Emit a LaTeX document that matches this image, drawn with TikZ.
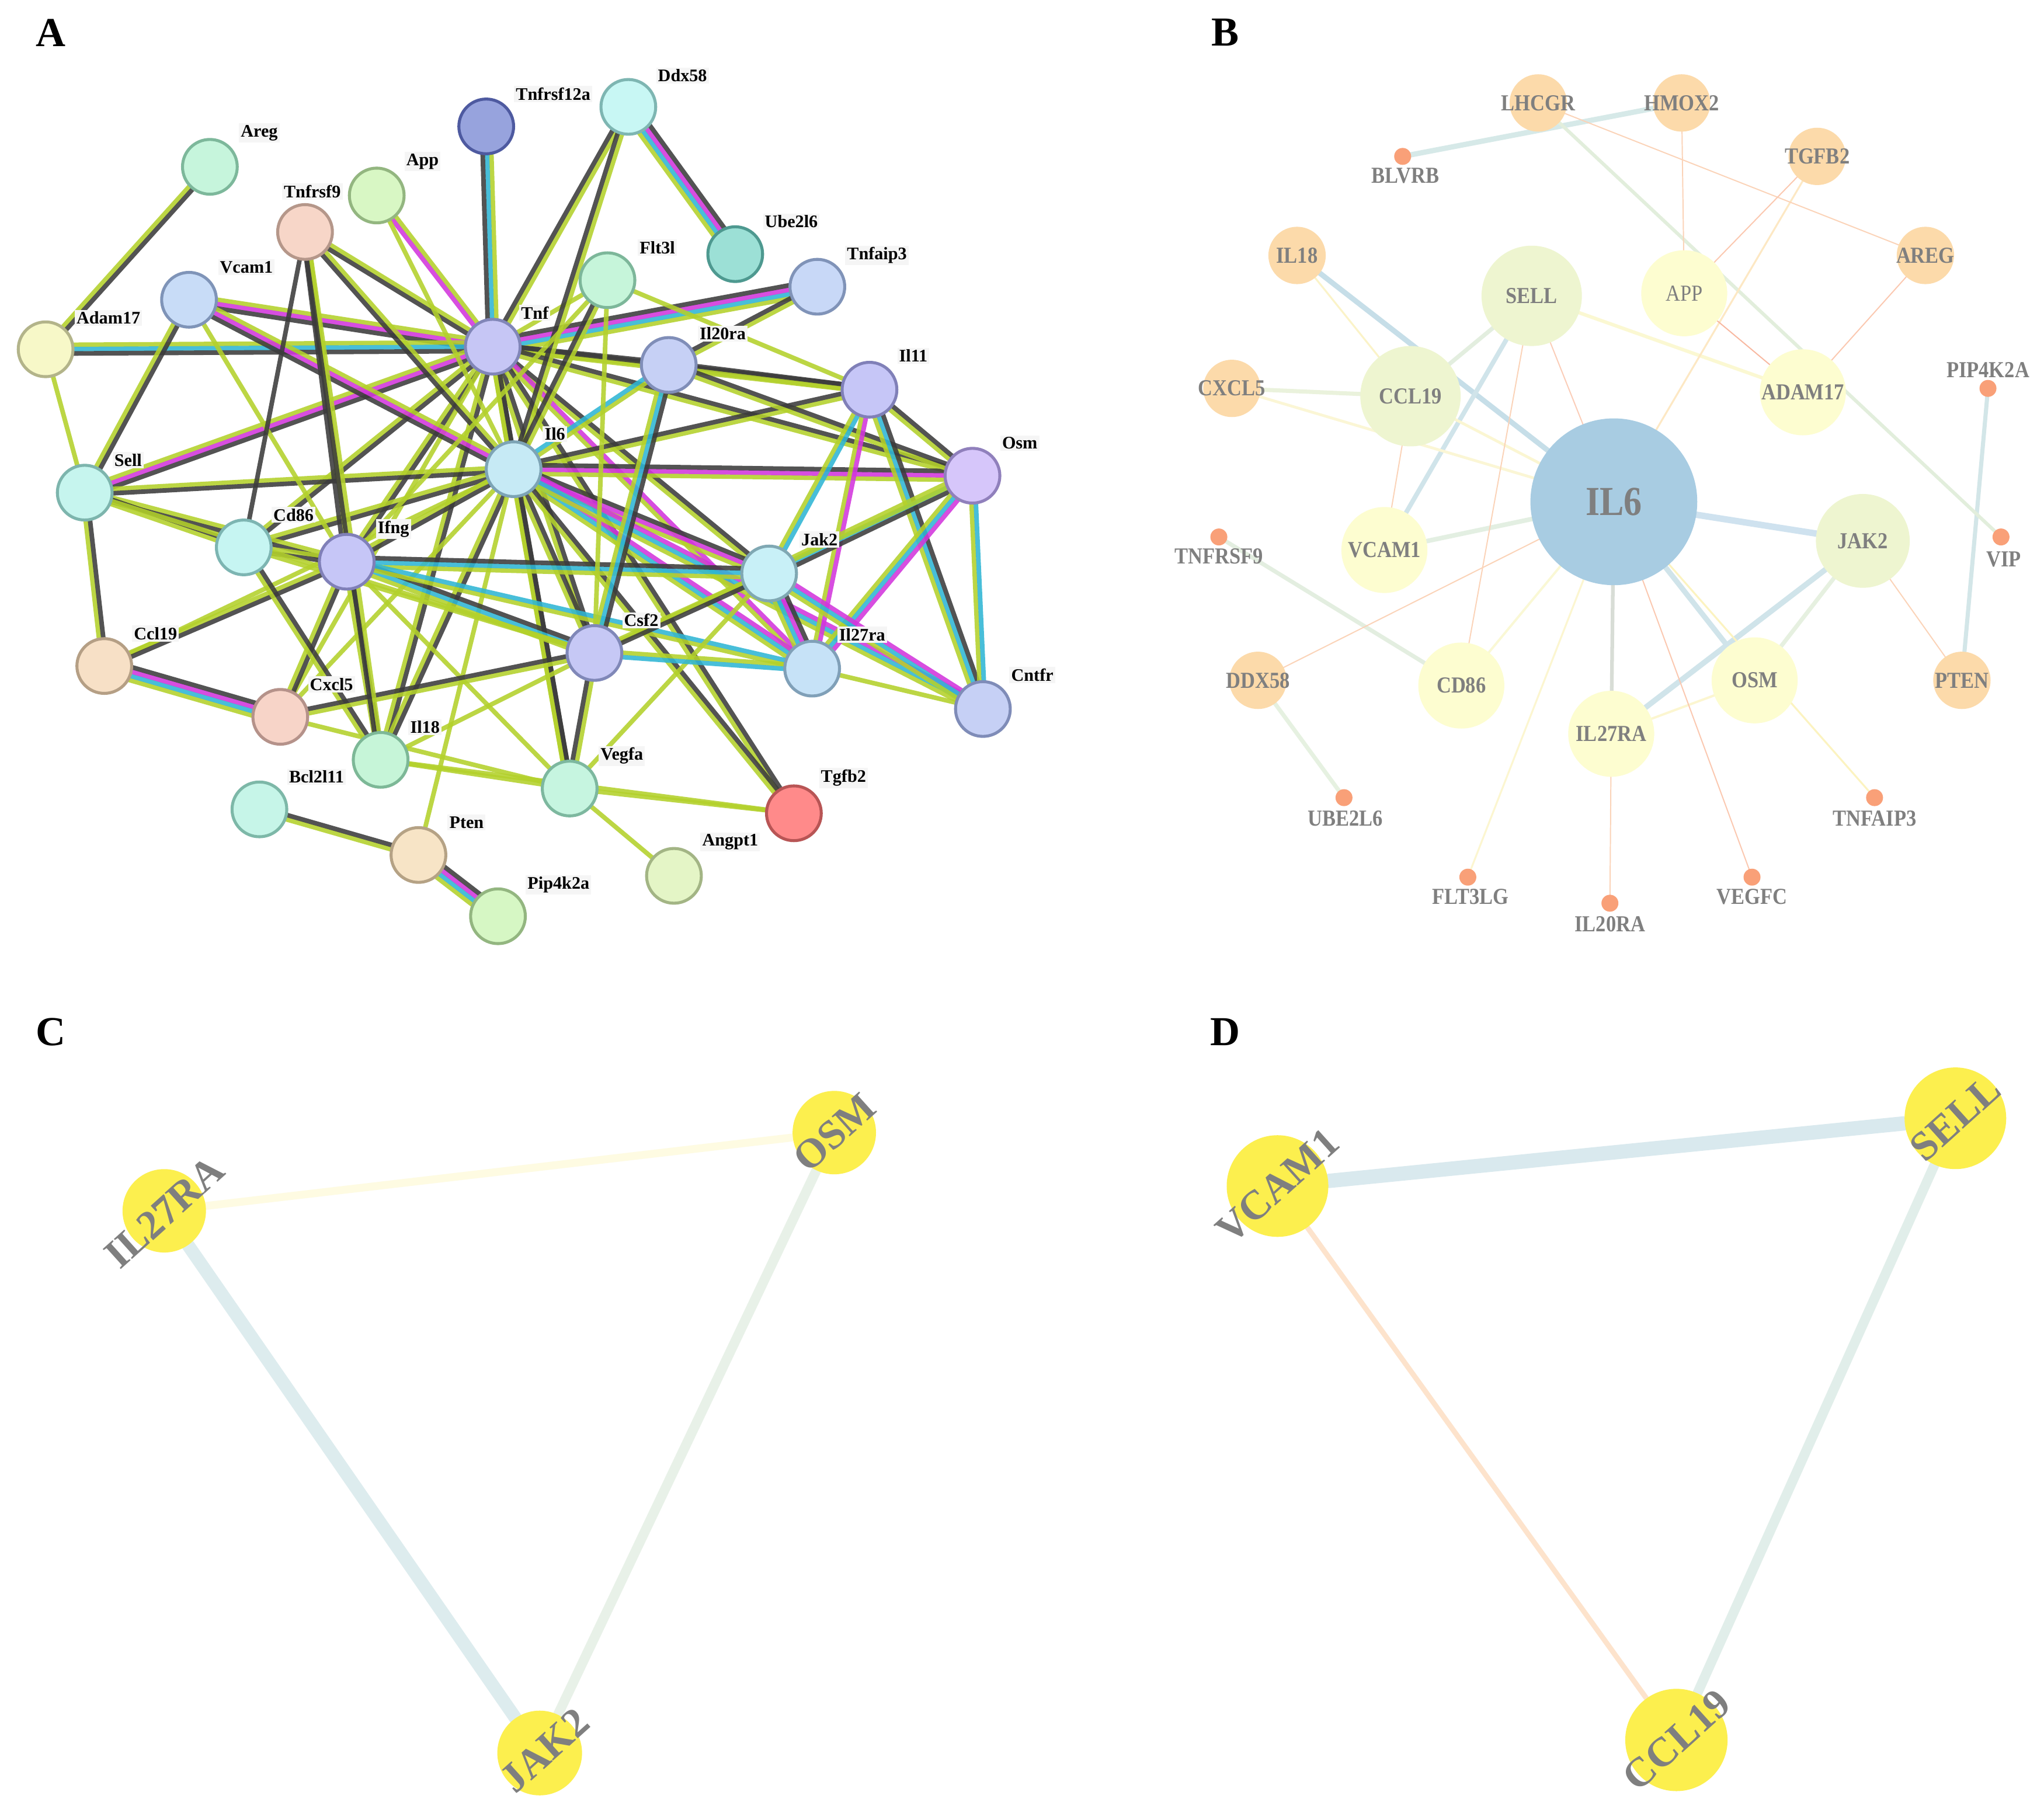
\documentclass[tikz,border=0pt]{standalone}
\usepackage{fontspec}
\usepackage{graphicx}
\setmainfont{Liberation Serif}
\usetikzlibrary{calc}
\pgfdeclarelayer{bgfill}
\pgfdeclarelayer{edges}
\pgfsetlayers{bgfill,edges,main}

\definecolor{sg}{HTML}{B3D12B}
\definecolor{sk}{HTML}{3C3C3C}
\definecolor{sc}{HTML}{2FB6D4}
\definecolor{sm}{HTML}{D236DC}
\definecolor{bgray}{HTML}{7F7F7F}
\definecolor{borange}{HTML}{FCDAAA}
\definecolor{bgreen}{HTML}{EEF5D0}
\definecolor{byellow}{HTML}{FDFDD0}
\definecolor{bblue}{HTML}{A8CCE2}
\definecolor{bdot}{HTML}{F9A078}
\definecolor{cyel}{RGB}{252,239,78}

\tikzset{
  sline/.style={line width=2pt, draw opacity=0.88},
  anode/.style={circle, line width=1.3pt, minimum size=0.84cm, inner sep=0pt},
  alabel/.style={anchor=west, font=\bfseries\fontsize{7.7}{9}\selectfont, fill=black!4, inner sep=0.8pt, text=black},
  bnode/.style={circle, inner sep=0pt, minimum size=#1},
  blab/.style={text=bgray, font=\bfseries\fontsize{10}{12}\selectfont, inner sep=0pt},
  blabr/.style={text=bgray, font=\fontsize{10}{12}\selectfont, inner sep=0pt},
  bedge/.style 2 args={/utils/exec={\definecolor{tmpc}{HTML}{#1}}, draw=tmpc, line width=#2, line cap=round},
  cnode/.style={circle, fill=cyel, inner sep=0pt, minimum size=#1},
  ctext/.style={text=bgray, font=\bfseries\fontsize{18}{20}\selectfont, inner sep=0pt, rotate=42},
  panel/.style={font=\bfseries\fontsize{18}{20}\selectfont, inner sep=0pt}
}

\newcommand{\cz}[1]{\scalebox{0.88}[1]{#1}}

\newcommand{\stredge}[4]{%
  \foreach \cc [count=\ii] in {#4} {%
    \pgfmathsetmacro{\off}{(\ii-(#3+1)/2)*1.9}%
    \draw[sline, draw=\cc] ($(#1.center)!\off pt!90:(#2.center)$) -- ($(#2.center)!\off pt!-90:(#1.center)$);
  }}

\newcommand{\gn}[8]{%
  \definecolor{f#1}{HTML}{#4}\definecolor{b#1}{HTML}{#5}%
  \node[anode, fill=f#1, draw=b#1] (#1) at (#2,#3) {};
  \node[alabel] (#1-l) at (#7,#8) {#6};
}

\begin{document}
\begin{tikzpicture}[x=0.02cm, y=-0.02cm]
\begin{pgfonlayer}{bgfill}
\fill[white] (0,0) rectangle (1568,1391);
\end{pgfonlayer}
\useasboundingbox (0,0) rectangle (1568,1391);

% ---------------- panel letters
\node[panel] (pA) at (39,25) {A};
\node[panel] (pB) at (940,25) {B};
\node[panel] (pC) at (39,792) {C};
\node[panel] (pD) at (940,792) {D};

% ---------------- Panel A nodes
\gn{aAreg}{161}{128}{C6F5DC}{7DB89B}{Areg}{183}{102}
\gn{aTnfrsf12a}{373}{97}{97A3DD}{4E5AA0}{Tnfrsf12a}{394}{72}
\gn{aDdx58}{482}{82}{C8F7F4}{7EB6B2}{Ddx58}{503}{58}
\gn{aApp}{289}{150}{D8F7C4}{93B680}{App}{310}{124}
\gn{aTnfrsf9}{234}{178}{F7D6C8}{B5978A}{Tnfrsf9}{216}{147}
\gn{aVcam1}{145}{230}{C8DCF7}{7F94B8}{Vcam1}{167}{205}
\gn{aFlt3l}{466}{215}{C6F5DA}{7DB79A}{Flt3l}{489}{190}
\gn{aUbe}{564}{195}{9CE0D6}{4E9990}{Ube2l6}{585}{170}
\gn{aTnfaip3}{627}{220}{C8D8F7}{8093B8}{Tnfaip3}{648}{196}
\gn{aAdam17}{35}{268}{F7F8C8}{B3B48A}{Adam17}{57}{244}
\gn{aTnf}{378}{266}{C6C6F5}{8186B8}{Tnf}{398}{240}
\gn{aIl20ra}{513}{280}{C6D0F5}{808EB8}{Il20ra}{535}{256}
\gn{aIl11}{667}{299}{C6C6F7}{8080B8}{Il11}{688}{273}
\gn{aIl6}{394}{360}{C6EAF5}{7DA4B5}{Il6}{416}{333}
\gn{aOsm}{746}{365}{D6C6FA}{9080BC}{Osm}{767}{340}
\gn{aSell}{65}{378}{C6F5EE}{7DB5AD}{Sell}{86}{353}
\gn{aCd86}{187}{420}{C6F5F2}{7DB5B2}{Cd86}{208}{395}
\gn{aIfng}{266}{431}{C6C6F7}{8080B8}{Ifng}{288}{406}
\gn{aJak2}{590}{440}{C8F0F7}{80A8B3}{Jak2}{613}{414}
\gn{aCsf2}{456}{501}{C6C8F5}{8088B8}{Csf2}{477}{476}
\gn{aIl27ra}{623}{513}{C6E2F7}{80A0B8}{Il27ra}{642}{487}
\gn{aCntfr}{754}{544}{C6D0F5}{7F8CB8}{Cntfr}{774}{518}
\gn{aCcl19}{80}{511}{F7E0C6}{B59F85}{Ccl19}{101}{486}
\gn{aCxcl5}{215}{550}{F7D4C8}{B5928A}{Cxcl5}{236}{525}
\gn{aIl18}{292}{583}{C6F5D8}{7DB897}{Il18}{313}{558}
\gn{aVegfa}{437}{605}{C6F5E0}{7DB89F}{Vegfa}{459}{580}
\gn{aTgfb2}{609}{624}{FF8A8A}{B85555}{Tgfb2}{628}{597}
\gn{aBcl}{199}{621}{C6F5E8}{7DB8A8}{Bcl2l11}{220}{596}
\gn{aPten}{321}{656}{F7E4C6}{B5A285}{Pten}{343}{631}
\gn{aAngpt1}{517}{672}{E4F5C6}{A3B585}{Angpt1}{537}{646}
\gn{aPip}{382}{703}{D6F7C4}{93B680}{Pip4k2a}{403}{679}

% ---------------- Panel A edges
\begin{pgfonlayer}{edges}
\stredge{aTnf}{aTnfrsf12a}{3}{sg,sc,sk}
\stredge{aTnf}{aDdx58}{2}{sg,sk}
\stredge{aTnf}{aApp}{2}{sg,sm}
\stredge{aTnf}{aTnfrsf9}{2}{sg,sk}
\stredge{aTnf}{aVcam1}{3}{sg,sm,sk}
\stredge{aTnf}{aAdam17}{3}{sg,sc,sk}
\stredge{aTnf}{aSell}{3}{sg,sm,sk}
\stredge{aTnf}{aTnfaip3}{4}{sg,sc,sm,sk}
\stredge{aTnf}{aIl20ra}{2}{sg,sk}
\stredge{aTnf}{aIl11}{2}{sg,sk}
\stredge{aTnf}{aOsm}{2}{sg,sk}
\stredge{aTnf}{aIl6}{2}{sg,sk}
\stredge{aTnf}{aIfng}{2}{sg,sk}
\stredge{aTnf}{aCd86}{2}{sg,sk}
\stredge{aTnf}{aJak2}{2}{sg,sk}
\stredge{aTnf}{aCsf2}{2}{sg,sk}
\stredge{aTnf}{aIl27ra}{2}{sg,sm}
\stredge{aTnf}{aCxcl5}{1}{sg}
\stredge{aTnf}{aIl18}{2}{sg,sk}
\stredge{aTnf}{aVegfa}{2}{sg,sk}
\stredge{aTnf}{aTgfb2}{2}{sg,sk}
\stredge{aTnf}{aFlt3l}{1}{sg}
\stredge{aIl6}{aDdx58}{2}{sg,sk}
\stredge{aIl6}{aApp}{1}{sg}
\stredge{aIl6}{aTnfrsf9}{2}{sg,sk}
\stredge{aIl6}{aVcam1}{3}{sg,sm,sk}
\stredge{aIl6}{aSell}{2}{sg,sk}
\stredge{aIl6}{aCd86}{2}{sg,sk}
\stredge{aIl6}{aIfng}{2}{sg,sk}
\stredge{aIl6}{aFlt3l}{2}{sg,sk}
\stredge{aIl6}{aIl20ra}{2}{sg,sc}
\stredge{aIl6}{aIl11}{2}{sg,sk}
\stredge{aIl6}{aOsm}{3}{sg,sm,sk}
\stredge{aIl6}{aJak2}{3}{sg,sm,sk}
\stredge{aIl6}{aIl27ra}{3}{sg,sc,sm}
\stredge{aIl6}{aCntfr}{3}{sg,sc,sm}
\stredge{aIl6}{aCsf2}{2}{sg,sk}
\stredge{aIl6}{aCxcl5}{1}{sg}
\stredge{aIl6}{aIl18}{2}{sg,sk}
\stredge{aIl6}{aVegfa}{2}{sg,sk}
\stredge{aIl6}{aTgfb2}{2}{sg,sk}
\stredge{aIl6}{aPten}{1}{sg}
\stredge{aIl6}{aCcl19}{1}{sg}
\stredge{aIfng}{aTnfrsf9}{2}{sg,sk}
\stredge{aIfng}{aSell}{2}{sg,sk}
\stredge{aIfng}{aCd86}{2}{sg,sk}
\stredge{aIfng}{aCcl19}{2}{sg,sk}
\stredge{aIfng}{aCxcl5}{2}{sg,sk}
\stredge{aIfng}{aIl18}{2}{sg,sk}
\stredge{aIfng}{aJak2}{3}{sg,sc,sk}
\stredge{aIfng}{aCsf2}{3}{sg,sc,sk}
\stredge{aIfng}{aVegfa}{1}{sg}
\stredge{aIfng}{aIl27ra}{2}{sg,sc}
\stredge{aIfng}{aVcam1}{1}{sg}
\stredge{aAreg}{aAdam17}{2}{sg,sk}
\stredge{aAdam17}{aSell}{1}{sg}
\stredge{aVcam1}{aSell}{2}{sg,sk}
\stredge{aSell}{aCd86}{2}{sg,sk}
\stredge{aSell}{aCcl19}{2}{sg,sk}
\stredge{aSell}{aCsf2}{1}{sg}
\stredge{aCd86}{aTnfrsf9}{1}{sk}
\stredge{aCd86}{aIl18}{2}{sg,sk}
\stredge{aCd86}{aCsf2}{1}{sg}
\stredge{aCcl19}{aCxcl5}{4}{sg,sc,sm,sk}
\stredge{aCxcl5}{aCsf2}{2}{sg,sk}
\stredge{aCxcl5}{aVegfa}{1}{sg}
\stredge{aIl18}{aVegfa}{1}{sg}
\stredge{aIl18}{aTgfb2}{1}{sg}
\stredge{aIl18}{aCsf2}{1}{sg}
\stredge{aIl18}{aTnfrsf9}{2}{sg,sk}
\stredge{aVegfa}{aCsf2}{2}{sg,sk}
\stredge{aVegfa}{aTgfb2}{1}{sg}
\stredge{aVegfa}{aAngpt1}{1}{sg}
\stredge{aVegfa}{aJak2}{1}{sg}
\stredge{aBcl}{aPten}{2}{sg,sk}
\stredge{aPten}{aPip}{4}{sg,sc,sm,sk}
\stredge{aDdx58}{aUbe}{4}{sg,sc,sm,sk}
\stredge{aFlt3l}{aCsf2}{1}{sg}
\stredge{aFlt3l}{aIl11}{1}{sg}
\stredge{aFlt3l}{aIfng}{1}{sg}
\stredge{aIl20ra}{aTnfaip3}{2}{sg,sk}
\stredge{aIl20ra}{aIl11}{2}{sg,sk}
\stredge{aIl20ra}{aOsm}{2}{sg,sk}
\stredge{aIl20ra}{aCsf2}{3}{sg,sc,sk}
\stredge{aIl11}{aOsm}{2}{sg,sk}
\stredge{aIl11}{aJak2}{2}{sg,sc}
\stredge{aIl11}{aIl27ra}{2}{sg,sm}
\stredge{aIl11}{aCntfr}{3}{sg,sc,sk}
\stredge{aOsm}{aJak2}{3}{sg,sc,sk}
\stredge{aOsm}{aIl27ra}{3}{sg,sc,sm}
\stredge{aOsm}{aCntfr}{2}{sg,sc}
\stredge{aOsm}{aCsf2}{1}{sg}
\stredge{aJak2}{aCsf2}{2}{sg,sk}
\stredge{aJak2}{aIl27ra}{4}{sg,sc,sm,sk}
\stredge{aJak2}{aCntfr}{3}{sg,sc,sm}
\stredge{aIl27ra}{aCsf2}{2}{sg,sc}
\stredge{aIl27ra}{aCntfr}{1}{sg}
\end{pgfonlayer}

% ---------------- Panel B nodes
\node[bnode=0.88cm, fill=borange, label={[blab]center:\cz{LHCGR}}] (bLHCGR) at (1180,79) {};
\node[bnode=0.88cm, fill=borange, label={[blab]center:\cz{HMOX2}}] (bHMOX2) at (1290,79) {};
\node[bnode=0.88cm, fill=borange, label={[blab]center:\cz{TGFB2}}] (bTGFB2) at (1394,120) {};
\node[bnode=0.88cm, fill=borange, label={[blab]center:\cz{IL18}}] (bIL18) at (995,196) {};
\node[bnode=0.88cm, fill=borange, label={[blab]center:\cz{AREG}}] (bAREG) at (1477,196) {};
\node[bnode=0.88cm, fill=borange, label={[blab]center:\cz{CXCL5}}] (bCXCL5) at (945,298) {};
\node[bnode=0.88cm, fill=borange, label={[blab]center:\cz{DDX58}}] (bDDX58) at (965,522) {};
\node[bnode=0.88cm, fill=borange, label={[blab]center:\cz{PTEN}}] (bPTEN) at (1505,522) {};
\node[bnode=1.54cm, fill=bgreen, label={[blab]center:\cz{SELL}}] (bSELL) at (1175,227) {};
\node[bnode=1.54cm, fill=bgreen, label={[blab]center:\cz{CCL19}}] (bCCL19) at (1082,304) {};
\node[bnode=1.44cm, fill=bgreen, label={[blab]center:\cz{JAK2}}] (bJAK2) at (1429,415) {};
\node[bnode=1.32cm, fill=byellow, label={[blabr]center:\cz{APP}}] (bAPP) at (1292,225) {};
\node[bnode=1.32cm, fill=byellow, label={[blab]center:\cz{ADAM17}}] (bADAM17) at (1383,301) {};
\node[bnode=1.32cm, fill=byellow, label={[blab]center:\cz{VCAM1}}] (bVCAM1) at (1062,422) {};
\node[bnode=1.32cm, fill=byellow, label={[blab]center:\cz{CD86}}] (bCD86) at (1121,526) {};
\node[bnode=1.32cm, fill=byellow, label={[blab]center:\cz{OSM}}] (bOSM) at (1346,522) {};
\node[bnode=1.32cm, fill=byellow, label={[blab]center:\cz{IL27RA}}] (bIL27RA) at (1236,563) {};
\node[bnode=2.56cm, fill=bblue, label={[text=bgray, font=\bfseries\fontsize{18}{20}\selectfont]center:\cz{IL6}}] (bIL6) at (1238,385) {};
% dots
\node[bnode=0.26cm, fill=bdot] (bBLVRB) at (1076,120) {};
\node[blab] (bBLVRB-t) at (1078,135) {\cz{BLVRB}};
\node[bnode=0.26cm, fill=bdot] (bPIP) at (1525,298) {};
\node[blab] (bPIP-t) at (1525,284) {\cz{PIP4K2A}};
\node[bnode=0.26cm, fill=bdot] (bTNFRSF9) at (935,412) {};
\node[blab] (bTNFRSF9-t) at (935,427) {\cz{TNFRSF9}};
\node[bnode=0.26cm, fill=bdot] (bVIP) at (1535,412) {};
\node[blab] (bVIP-t) at (1537,429) {\cz{VIP}};
\node[bnode=0.26cm, fill=bdot] (bUBE) at (1031,612) {};
\node[blab] (bUBE-t) at (1032,628) {\cz{UBE2L6}};
\node[bnode=0.26cm, fill=bdot] (bTNFAIP3) at (1438,612) {};
\node[blab] (bTNFAIP3-t) at (1438,628) {\cz{TNFAIP3}};
\node[bnode=0.26cm, fill=bdot] (bFLT3LG) at (1126,673) {};
\node[blab] (bFLT3LG-t) at (1128,688) {\cz{FLT3LG}};
\node[bnode=0.26cm, fill=bdot] (bVEGFC) at (1344,673) {};
\node[blab] (bVEGFC-t) at (1344,688) {\cz{VEGFC}};
\node[bnode=0.26cm, fill=bdot] (bIL20RA) at (1235,693) {};
\node[blab] (bIL20RA-t) at (1235,709) {\cz{IL20RA}};

\begin{pgfonlayer}{edges}
% bluish
\draw[bedge={D6E9E8}{2.3pt}] (bBLVRB.center) -- (bHMOX2.center);
\draw[bedge={C6DEE8}{2.3pt}] (bIL18.center) -- (bIL6.center);
\draw[bedge={D0E4EA}{2pt}] (bSELL.center) -- (bVCAM1.center);
\draw[bedge={CFE2EF}{2.8pt}] (bIL6.center) -- (bJAK2.center);
\draw[bedge={D0E4EA}{2.4pt}] (bJAK2.center) -- (bIL27RA.center);
\draw[bedge={D0E4EA}{2.3pt}] (bIL6.center) -- (bOSM.center);
\draw[bedge={D3E6E8}{1.8pt}] (bPIP.center) -- (bPTEN.center);
% greenish
\draw[bedge={E2EEDC}{1.5pt}] (bLHCGR.center) -- (bVIP.center);
\draw[bedge={E3EEDF}{1.8pt}] (bSELL.center) -- (bCCL19.center);
\draw[bedge={EAF2DC}{1.8pt}] (bCXCL5.center) -- (bCCL19.center);
\draw[bedge={E3EFE2}{2pt}] (bVCAM1.center) -- (bIL6.center);
\draw[bedge={E3EEE0}{1.8pt}] (bTNFRSF9.center) -- (bCD86.center);
\draw[bedge={E6F1E1}{1.8pt}] (bDDX58.center) -- (bUBE.center);
\draw[bedge={E6F0E0}{1.8pt}] (bJAK2.center) -- (bOSM.center);
\draw[bedge={D8DDD6}{1.6pt}] (bIL6.center) -- (bIL27RA.center);
% yellowish
\draw[bedge={FBF6D5}{1.2pt}] (bCXCL5.center) -- (bIL6.center);
\draw[bedge={FBF8D2}{1.5pt}] (bSELL.center) -- (bADAM17.center);
\draw[bedge={FBF6D2}{1.2pt}] (bCCL19.center) -- (bIL6.center);
\draw[bedge={FBF3C8}{0.8pt}] (bIL18.center) -- (bCCL19.center);
\draw[bedge={FAF8D5}{1pt}] (bIL6.center) -- (bCD86.center);
\draw[bedge={FCF3C0}{0.8pt}] (bIL6.center) -- (bTNFAIP3.center);
\draw[bedge={FCF6D0}{0.8pt}] (bIL6.center) -- (bFLT3LG.center);
\draw[bedge={FCF6D0}{1pt}] (bIL27RA.center) -- (bOSM.center);
\draw[bedge={FDE8C4}{0.8pt}] (bTGFB2.center) -- (bIL6.center);
% thin orange
\draw[bedge={FBD3B8}{0.5pt}] (bLHCGR.center) -- (bAREG.center);
\draw[bedge={FBD3B8}{0.5pt}] (bHMOX2.center) -- (bAPP.center);
\draw[bedge={FBC8B0}{0.5pt}] (bTGFB2.center) -- (bAPP.center);
\draw[bedge={FBC8B0}{0.5pt}] (bAREG.center) -- (bADAM17.center);
\draw[bedge={F8B8A0}{0.5pt}] (bAPP.center) -- (bADAM17.center);
\draw[bedge={FBCDB8}{0.5pt}] (bSELL.center) -- (bIL6.center);
\draw[bedge={FBD3B8}{0.5pt}] (bSELL.center) -- (bCD86.center);
\draw[bedge={FBD3B8}{0.5pt}] (bCCL19.center) -- (bVCAM1.center);
\draw[bedge={FBD3B8}{0.5pt}] (bIL6.center) -- (bDDX58.center);
\draw[bedge={FBC8B0}{0.5pt}] (bIL6.center) -- (bVEGFC.center);
\draw[bedge={FBD3B8}{0.5pt}] (bJAK2.center) -- (bPTEN.center);
\draw[bedge={FBD3B8}{0.5pt}] (bIL27RA.center) -- (bIL20RA.center);
\end{pgfonlayer}

% ---------------- Panel C
\node[cnode=1.28cm] (cIL27RA) at (126,929) {};
\node[cnode=1.28cm] (cOSM) at (640,869) {};
\node[cnode=1.30cm] (cJAK2) at (414,1345) {};
\node[ctext] (cIL27RA-t) at (126,930) {IL27RA};
\node[ctext] (cOSM-t) at (640,869) {OSM};
\node[ctext] (cJAK2-t) at (418,1343) {JAK2};
\begin{pgfonlayer}{edges}
\draw[bedge={FEFBE2}{0.12cm}] (cIL27RA) -- (cOSM);
\draw[bedge={DDECEE}{0.2cm}] (cIL27RA) -- (cJAK2);
\draw[bedge={E8F1E8}{0.15cm}] (cOSM) -- (cJAK2);
\end{pgfonlayer}

% ---------------- Panel D
\node[cnode=1.56cm] (dVCAM1) at (980,910) {};
\node[cnode=1.56cm] (dSELL) at (1500,858) {};
\node[cnode=1.57cm] (dCCL19) at (1286,1335) {};
\node[ctext] (dVCAM1-t) at (980,910) {VCAM1};
\node[ctext] (dSELL-t) at (1500,858) {SELL};
\node[ctext] (dCCL19-t) at (1286,1335) {CCL19};
\begin{pgfonlayer}{edges}
\draw[bedge={D9E9EE}{0.22cm}] (dVCAM1) -- (dSELL);
\draw[bedge={FDE3CC}{0.08cm}] (dVCAM1) -- (dCCL19);
\draw[bedge={E1EEEA}{0.15cm}] (dSELL) -- (dCCL19);
\end{pgfonlayer}

\end{tikzpicture}
\end{document}
